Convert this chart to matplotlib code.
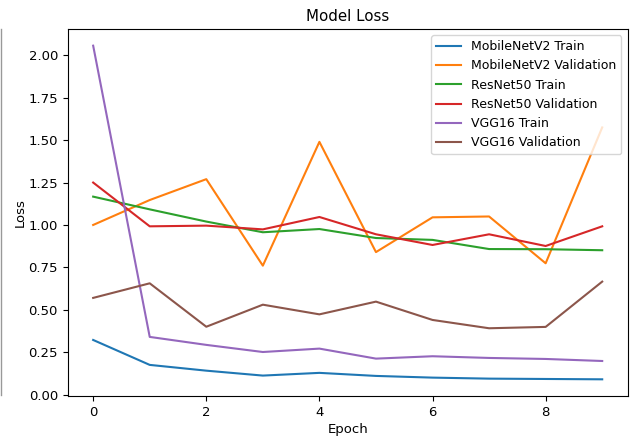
import matplotlib
matplotlib.use("Agg")
import matplotlib.pyplot as plt
from matplotlib.lines import Line2D

epochs = list(range(10))

mobilenet_train = [0.322, 0.175, 0.141, 0.112, 0.128, 0.110, 0.100, 0.094, 0.092, 0.090]
mobilenet_val = [1.00, 1.147, 1.27, 0.76, 1.49, 0.84, 1.045, 1.05, 0.774, 1.575]
resnet_train = [1.167, 1.092, 1.02, 0.957, 0.976, 0.923, 0.912, 0.858, 0.857, 0.851]
resnet_val = [1.25, 0.992, 0.996, 0.974, 1.047, 0.945, 0.882, 0.945, 0.876, 0.992]
vgg_train = [2.057, 0.34, 0.293, 0.251, 0.271, 0.212, 0.226, 0.216, 0.210, 0.198]
vgg_val = [0.57, 0.656, 0.40, 0.53, 0.473, 0.548, 0.44, 0.391, 0.399, 0.666]

series = [
    ("MobileNetV2 Train", mobilenet_train),
    ("MobileNetV2 Validation", mobilenet_val),
    ("ResNet50 Train", resnet_train),
    ("ResNet50 Validation", resnet_val),
    ("VGG16 Train", vgg_train),
    ("VGG16 Validation", vgg_val),
]

fig = plt.figure(figsize=(6.34, 4.38), dpi=100)
ax = fig.add_axes([0.1068, 0.0959, 0.8832, 0.8379])

for label, values in series:
    ax.plot(epochs, values, label=label)

ax.set_title("Model Loss", fontsize=10.8)
ax.set_xlabel("Epoch", fontsize=9.5, labelpad=3)
ax.set_ylabel("Loss", fontsize=9.5, labelpad=1.5)
ax.tick_params(labelsize=9.5)
ax.legend(loc="upper right", fontsize=9)

# thin grey border left over on the left edge of the screenshot
fig.add_artist(Line2D([0.002, 0.002], [1 - 395 / 438, 1 - 29 / 438],
                      color="#999999", linewidth=1, transform=fig.transFigure))

fig.savefig("out.png", dpi=100)
